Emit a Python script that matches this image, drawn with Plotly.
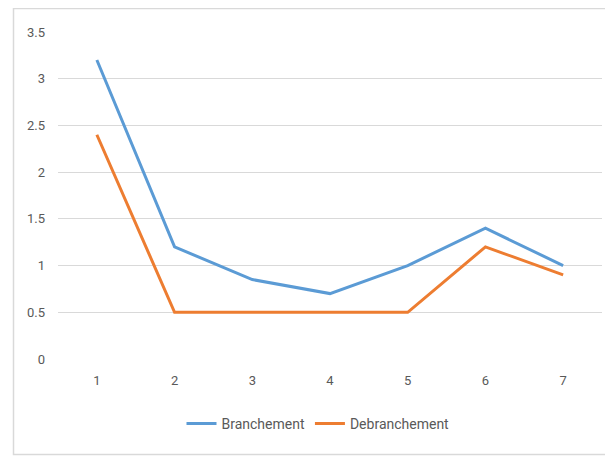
import plotly.graph_objects as go

categories = ["1", "2", "3", "4", "5", "6", "7"]
branchement = [3.2, 1.2, 0.85, 0.7, 1.0, 1.4, 1.0]
debranchement = [2.4, 0.5, 0.5, 0.5, 0.5, 1.2, 0.9]
y_ticks = [0, 0.5, 1, 1.5, 2, 2.5, 3, 3.5]
y_tick_labels = ["0", "0.5", "1", "1.5", "2", "2.5", "3", "3.5"]

# page body has an 8px margin, so the figure is drawn offset by 8px
OFF = 8
W, H = 613 - OFF, 458 - OFF
L, R, T, B = 58 - OFF, 11, 32 - OFF, 99
pw, ph = W - L - R, H - T - B

def px_x(p):
    return (p - OFF - L) / pw

def px_y(p):
    return (H - B - (p - OFF)) / ph

fig = go.Figure()
fig.add_trace(go.Scatter(x=categories, y=branchement, mode="lines", name="Branchement",
                         line=dict(color="#5B9BD5", width=3)))
fig.add_trace(go.Scatter(x=categories, y=debranchement, mode="lines", name="Debranchement",
                         line=dict(color="#ED7D31", width=3)))

fig.update_layout(
    width=W, height=H,
    margin=dict(l=L, r=R, t=T, b=B, pad=0),
    paper_bgcolor="white", plot_bgcolor="white",
    font=dict(family="Roboto, Open Sans, sans-serif", size=13, color="#595959"),
    showlegend=True,
    legend=dict(orientation="h", x=px_x(318), xanchor="center", y=px_y(424), yanchor="middle",
                font=dict(size=14, color="#595959"), itemwidth=30, traceorder="normal"),
    xaxis=dict(type="category", range=[-0.5, 6.5], showgrid=False, zeroline=False,
               showline=False, ticks="", tickfont=dict(size=13, color="#595959")),
    yaxis=dict(range=[0, 3.5], tickvals=y_ticks, ticktext=y_tick_labels,
               showgrid=True, gridcolor="#D9D9D9", gridwidth=1, zeroline=False,
               showline=False, ticks="", ticklabelstandoff=12,
               tickfont=dict(size=13, color="#595959")),
    shapes=[dict(type="rect", xref="paper", yref="paper",
                 x0=px_x(13.5), x1=px_x(640), y0=px_y(454.5), y1=px_y(8.5),
                 line=dict(color="#D9D9D9", width=1.5), fillcolor="rgba(0,0,0,0)", layer="below")],
)
fig.update_xaxes(ticklabelstandoff=12)

fig.write_html("out.html")
